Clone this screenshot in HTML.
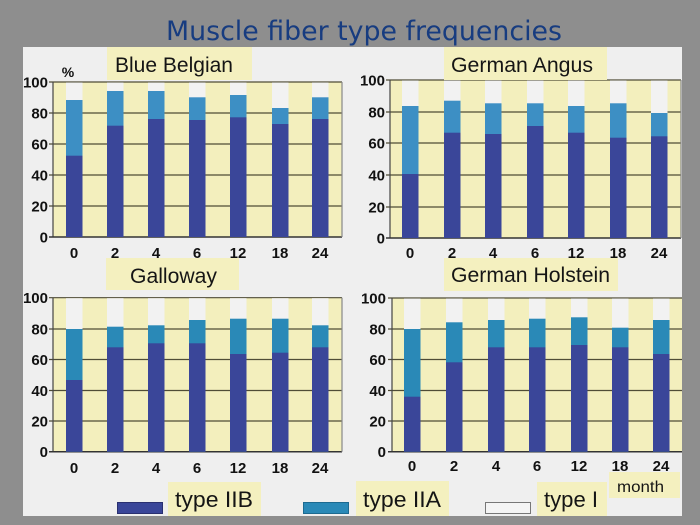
<!DOCTYPE html>
<html><head><meta charset="utf-8"><style>
html,body{margin:0;padding:0;background:#8e8e8e;}
svg{display:block;}
</style></head><body>
<svg width="700" height="525" viewBox="0 0 700 525" xmlns="http://www.w3.org/2000/svg">
<rect x="0" y="0" width="700" height="525" fill="#8e8e8e"/>
<text x="166" y="40" font-family="DejaVu Sans, sans-serif" font-size="27" fill="#173c80" textLength="396" lengthAdjust="spacingAndGlyphs">Muscle fiber type frequencies</text>
<rect x="23" y="47" width="659" height="469" fill="#efefef"/>

<g font-family="Liberation Sans, sans-serif" font-weight="bold" font-size="15" fill="#111">
<!-- TL chart -->
<rect x="53" y="82" width="289" height="155" fill="#f3efbd"/>
<g stroke="#4f4c36" stroke-width="1.2">
<line x1="49" y1="82" x2="342" y2="82"/><line x1="49" y1="113" x2="342" y2="113"/><line x1="49" y1="144" x2="342" y2="144"/><line x1="49" y1="175" x2="342" y2="175"/><line x1="49" y1="206" x2="342" y2="206"/>
<line x1="53" y1="82" x2="53" y2="237" stroke="#444"/><line x1="49" y1="237" x2="342" y2="237" stroke="#333" stroke-width="1.5"/>
<line x1="342" y1="82" x2="342" y2="237" stroke="#888"/>
</g>
<g>
<rect x="66" y="82.5" width="16.5" height="154" fill="#f2f2f2"/><rect x="66" y="100" width="16.5" height="137" fill="#3d8fc4"/><rect x="66" y="155.7" width="16.5" height="81.3" fill="#3a4699"/>
<rect x="107" y="82.5" width="16.5" height="154" fill="#f2f2f2"/><rect x="107" y="91" width="16.5" height="146" fill="#3d8fc4"/><rect x="107" y="125.7" width="16.5" height="111.3" fill="#3a4699"/>
<rect x="148" y="82.5" width="16.5" height="154" fill="#f2f2f2"/><rect x="148" y="91" width="16.5" height="146" fill="#3d8fc4"/><rect x="148" y="119" width="16.5" height="118" fill="#3a4699"/>
<rect x="189" y="82.5" width="16.5" height="154" fill="#f2f2f2"/><rect x="189" y="97.3" width="16.5" height="139.7" fill="#3d8fc4"/><rect x="189" y="120" width="16.5" height="117" fill="#3a4699"/>
<rect x="230" y="82.5" width="16.5" height="154" fill="#f2f2f2"/><rect x="230" y="95" width="16.5" height="142" fill="#3d8fc4"/><rect x="230" y="117.3" width="16.5" height="119.7" fill="#3a4699"/>
<rect x="272" y="82.5" width="16.5" height="154" fill="#f2f2f2"/><rect x="272" y="108" width="16.5" height="129" fill="#3d8fc4"/><rect x="272" y="124" width="16.5" height="113" fill="#3a4699"/>
<rect x="312" y="82.5" width="16.5" height="154" fill="#f2f2f2"/><rect x="312" y="97.3" width="16.5" height="139.7" fill="#3d8fc4"/><rect x="312" y="119" width="16.5" height="118" fill="#3a4699"/>
</g>
<g text-anchor="end"><text x="48" y="87.5">100</text><text x="48" y="118.5">80</text><text x="48" y="149.5">60</text><text x="48" y="180.5">40</text><text x="48" y="211.5">20</text><text x="48" y="242.5">0</text></g>
<g text-anchor="middle"><text x="74" y="258">0</text><text x="115" y="258">2</text><text x="156" y="258">4</text><text x="197" y="258">6</text><text x="238" y="258">12</text><text x="280" y="258">18</text><text x="320" y="258">24</text></g>
<text x="68" y="77" text-anchor="middle" font-size="14">%</text>

<!-- TR chart -->
<rect x="390" y="80" width="291" height="158" fill="#f3efbd"/>
<g stroke="#4f4c36" stroke-width="1.2">
<line x1="386" y1="80" x2="681" y2="80"/><line x1="386" y1="112" x2="681" y2="112"/><line x1="386" y1="143" x2="681" y2="143"/><line x1="386" y1="175" x2="681" y2="175"/><line x1="386" y1="207" x2="681" y2="207"/>
<line x1="390" y1="80" x2="390" y2="238" stroke="#444"/><line x1="386" y1="238" x2="681" y2="238" stroke="#333" stroke-width="1.5"/>
<line x1="681" y1="80" x2="681" y2="238" stroke="#888"/>
</g>
<g>
<rect x="402" y="80.5" width="16.5" height="157" fill="#f2f2f2"/><rect x="402" y="106" width="16.5" height="132" fill="#3d8fc4"/><rect x="402" y="174" width="16.5" height="64" fill="#3a4699"/>
<rect x="444" y="80.5" width="16.5" height="157" fill="#f2f2f2"/><rect x="444" y="100.7" width="16.5" height="137.3" fill="#3d8fc4"/><rect x="444" y="132.7" width="16.5" height="105.3" fill="#3a4699"/>
<rect x="485" y="80.5" width="16.5" height="157" fill="#f2f2f2"/><rect x="485" y="103.3" width="16.5" height="134.7" fill="#3d8fc4"/><rect x="485" y="134" width="16.5" height="104" fill="#3a4699"/>
<rect x="527" y="80.5" width="16.5" height="157" fill="#f2f2f2"/><rect x="527" y="103.3" width="16.5" height="134.7" fill="#3d8fc4"/><rect x="527" y="126" width="16.5" height="112" fill="#3a4699"/>
<rect x="568" y="80.5" width="16.5" height="157" fill="#f2f2f2"/><rect x="568" y="106" width="16.5" height="132" fill="#3d8fc4"/><rect x="568" y="132.7" width="16.5" height="105.3" fill="#3a4699"/>
<rect x="610" y="80.5" width="16.5" height="157" fill="#f2f2f2"/><rect x="610" y="103.3" width="16.5" height="134.7" fill="#3d8fc4"/><rect x="610" y="137.7" width="16.5" height="100.3" fill="#3a4699"/>
<rect x="651" y="80.5" width="16.5" height="157" fill="#f2f2f2"/><rect x="651" y="113" width="16.5" height="125" fill="#3d8fc4"/><rect x="651" y="136.3" width="16.5" height="101.7" fill="#3a4699"/>
</g>
<g text-anchor="end"><text x="385" y="85.5">100</text><text x="385" y="117.5">80</text><text x="385" y="148.5">60</text><text x="385" y="180.5">40</text><text x="385" y="212.5">20</text><text x="385" y="243.5">0</text></g>
<g text-anchor="middle"><text x="410" y="258">0</text><text x="452" y="258">2</text><text x="493" y="258">4</text><text x="535" y="258">6</text><text x="576" y="258">12</text><text x="618" y="258">18</text><text x="659" y="258">24</text></g>

<!-- BL chart -->
<rect x="53" y="297.7" width="289" height="154" fill="#f3efbd"/>
<g stroke="#4f4c36" stroke-width="1.2">
<line x1="49" y1="297.7" x2="342" y2="297.7"/><line x1="49" y1="329" x2="342" y2="329"/><line x1="49" y1="359.5" x2="342" y2="359.5"/><line x1="49" y1="390.5" x2="342" y2="390.5"/><line x1="49" y1="421" x2="342" y2="421"/>
<line x1="53" y1="297.7" x2="53" y2="451.7" stroke="#444"/><line x1="49" y1="451.7" x2="342" y2="451.7" stroke="#333" stroke-width="1.5"/>
<line x1="342" y1="297.7" x2="342" y2="451.7" stroke="#888"/>
</g>
<g>
<rect x="66" y="298.2" width="16.5" height="153" fill="#f2f2f2"/><rect x="66" y="329" width="16.5" height="122.7" fill="#2a89b7"/><rect x="66" y="380" width="16.5" height="71.7" fill="#3a4699"/>
<rect x="107" y="298.2" width="16.5" height="153" fill="#f2f2f2"/><rect x="107" y="326.7" width="16.5" height="125" fill="#2a89b7"/><rect x="107" y="347.3" width="16.5" height="104.4" fill="#3a4699"/>
<rect x="148" y="298.2" width="16.5" height="153" fill="#f2f2f2"/><rect x="148" y="325.3" width="16.5" height="126.4" fill="#2a89b7"/><rect x="148" y="343.3" width="16.5" height="108.4" fill="#3a4699"/>
<rect x="189" y="298.2" width="16.5" height="153" fill="#f2f2f2"/><rect x="189" y="320" width="16.5" height="131.7" fill="#2a89b7"/><rect x="189" y="343.3" width="16.5" height="108.4" fill="#3a4699"/>
<rect x="230" y="298.2" width="16.5" height="153" fill="#f2f2f2"/><rect x="230" y="318.7" width="16.5" height="133" fill="#2a89b7"/><rect x="230" y="354" width="16.5" height="97.7" fill="#3a4699"/>
<rect x="272" y="298.2" width="16.5" height="153" fill="#f2f2f2"/><rect x="272" y="318.7" width="16.5" height="133" fill="#2a89b7"/><rect x="272" y="352.7" width="16.5" height="99" fill="#3a4699"/>
<rect x="312" y="298.2" width="16.5" height="153" fill="#f2f2f2"/><rect x="312" y="325.3" width="16.5" height="126.4" fill="#2a89b7"/><rect x="312" y="347.3" width="16.5" height="104.4" fill="#3a4699"/>
</g>
<g text-anchor="end"><text x="48" y="303.2">100</text><text x="48" y="334.5">80</text><text x="48" y="365">60</text><text x="48" y="396">40</text><text x="48" y="426.5">20</text><text x="48" y="457.2">0</text></g>
<g text-anchor="middle"><text x="74" y="473">0</text><text x="115" y="473">2</text><text x="156" y="473">4</text><text x="197" y="473">6</text><text x="238" y="473">12</text><text x="280" y="473">18</text><text x="320" y="473">24</text></g>

<!-- BR chart -->
<rect x="392" y="298" width="290" height="153.7" fill="#f3efbd"/>
<g stroke="#4f4c36" stroke-width="1.2">
<line x1="388" y1="298" x2="682" y2="298"/><line x1="388" y1="329" x2="682" y2="329"/><line x1="388" y1="359.5" x2="682" y2="359.5"/><line x1="388" y1="390.5" x2="682" y2="390.5"/><line x1="388" y1="421" x2="682" y2="421"/>
<line x1="392" y1="298" x2="392" y2="451.7" stroke="#444"/><line x1="388" y1="451.7" x2="682" y2="451.7" stroke="#333" stroke-width="1.5"/>
</g>
<g>
<rect x="404" y="298.5" width="16.5" height="153" fill="#f2f2f2"/><rect x="404" y="329" width="16.5" height="122.7" fill="#2a89b7"/><rect x="404" y="396.7" width="16.5" height="55" fill="#3a4699"/>
<rect x="446" y="298.5" width="16.5" height="153" fill="#f2f2f2"/><rect x="446" y="322.3" width="16.5" height="129.4" fill="#2a89b7"/><rect x="446" y="362.3" width="16.5" height="89.4" fill="#3a4699"/>
<rect x="488" y="298.5" width="16.5" height="153" fill="#f2f2f2"/><rect x="488" y="320" width="16.5" height="131.7" fill="#2a89b7"/><rect x="488" y="347.3" width="16.5" height="104.4" fill="#3a4699"/>
<rect x="529" y="298.5" width="16.5" height="153" fill="#f2f2f2"/><rect x="529" y="318.7" width="16.5" height="133" fill="#2a89b7"/><rect x="529" y="347.3" width="16.5" height="104.4" fill="#3a4699"/>
<rect x="571" y="298.5" width="16.5" height="153" fill="#f2f2f2"/><rect x="571" y="317.3" width="16.5" height="134.4" fill="#2a89b7"/><rect x="571" y="345" width="16.5" height="106.7" fill="#3a4699"/>
<rect x="612" y="298.5" width="16.5" height="153" fill="#f2f2f2"/><rect x="612" y="327.7" width="16.5" height="124" fill="#2a89b7"/><rect x="612" y="347.3" width="16.5" height="104.4" fill="#3a4699"/>
<rect x="653" y="298.5" width="16.5" height="153" fill="#f2f2f2"/><rect x="653" y="320" width="16.5" height="131.7" fill="#2a89b7"/><rect x="653" y="354" width="16.5" height="97.7" fill="#3a4699"/>
</g>
<g text-anchor="end"><text x="386" y="303.5">100</text><text x="386" y="334.5">80</text><text x="386" y="365">60</text><text x="386" y="396">40</text><text x="386" y="426.5">20</text><text x="386" y="457.2">0</text></g>
<g text-anchor="middle"><text x="412" y="471">0</text><text x="454" y="471">2</text><text x="496" y="471">4</text><text x="537" y="471">6</text><text x="579" y="471">12</text><text x="620" y="471">18</text><text x="661" y="471">24</text></g>
</g>

<!-- Chart title boxes -->
<g font-family="Liberation Sans, sans-serif" fill="#151515">
<rect x="107" y="47" width="145" height="33" fill="#f4f0bf"/>
<text x="115" y="72" font-size="21" textLength="118" lengthAdjust="spacingAndGlyphs">Blue Belgian</text>
<rect x="444" y="47" width="163" height="33" fill="#f4f0bf"/>
<text x="451" y="72" font-size="21" textLength="142" lengthAdjust="spacingAndGlyphs">German Angus</text>
<rect x="106" y="258" width="133" height="32" fill="#f4f0bf"/>
<text x="130" y="283" font-size="21" textLength="87" lengthAdjust="spacingAndGlyphs">Galloway</text>
<rect x="444" y="258" width="174" height="33" fill="#f4f0bf"/>
<text x="451" y="282" font-size="21" textLength="159" lengthAdjust="spacingAndGlyphs">German Holstein</text>

<!-- Legend -->
<rect x="117.5" y="502.5" width="45" height="11" fill="#3a4699" stroke="#2a3070"/>
<rect x="168" y="482" width="93" height="34" fill="#f4f0bf"/>
<text x="175" y="507" font-size="22" textLength="78" lengthAdjust="spacingAndGlyphs">type IIB</text>
<rect x="303.5" y="502.5" width="45" height="11" fill="#2a89b7" stroke="#1d6a90"/>
<rect x="356" y="481" width="93" height="35" fill="#f4f0bf"/>
<text x="363" y="507" font-size="22" textLength="78" lengthAdjust="spacingAndGlyphs">type IIA</text>
<rect x="485.5" y="502.5" width="45" height="11" fill="#f4f4f4" stroke="#777"/>
<rect x="537" y="482" width="70" height="34" fill="#f4f0bf"/>
<text x="544" y="507" font-size="22" textLength="54" lengthAdjust="spacingAndGlyphs">type I</text>
<rect x="609" y="472" width="71" height="26" fill="#f4f0bf"/>
<text x="617" y="492" font-size="16" textLength="47" lengthAdjust="spacingAndGlyphs">month</text>
</g>
</svg>
</body></html>
